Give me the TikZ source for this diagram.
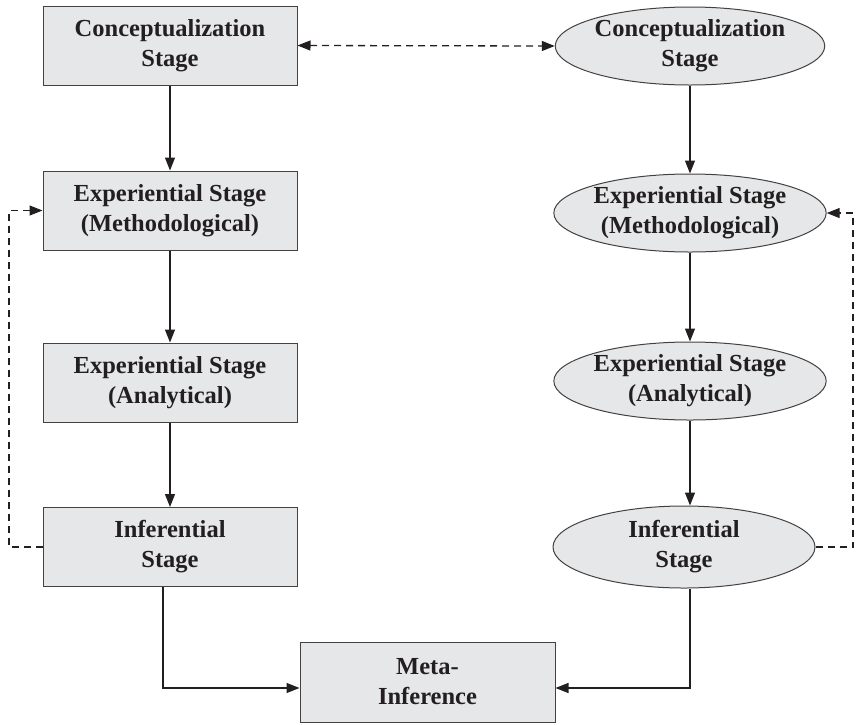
\documentclass[tikz,border=0pt]{standalone}
\usepackage{fontspec}
\setmainfont{Liberation Serif}
\usetikzlibrary{shapes.geometric,arrows.meta}
\definecolor{nodefill}{HTML}{E6E7E8}
\definecolor{edgecol}{HTML}{231F20}
\begin{document}
\begin{tikzpicture}[x=1pt,y=-1pt,
  txt/.style={align=center, text=edgecol, font=\bfseries\fontsize{24.5}{30}\selectfont},
  boxnode/.style={txt, draw=edgecol!85, fill=nodefill, line width=1pt, minimum width=254pt, minimum height=79pt, inner sep=0pt},
  ellnode/.style={txt, ellipse, draw=edgecol!85, fill=nodefill, line width=1pt, minimum width=268pt, minimum height=78pt, inner sep=0pt},
  conn/.style={draw=edgecol, line width=1.3pt, -{Triangle[length=13pt,width=10pt]}},
  dconn/.style={draw=edgecol, line width=1.3pt, dash pattern=on 7pt off 5pt},
  tipend/.style={-{Triangle[length=13pt,width=10pt]}},
  tipboth/.style={{Triangle[length=13pt,width=10pt]}-{Triangle[length=13pt,width=10pt]}}
]
\useasboundingbox (0,0) rectangle (856,724);
\node[boxnode] (L1) at (170,45.5) {Conceptualization\\Stage};
\node[boxnode] (L2) at (170,210.5) {Experiential Stage\\(Methodological)};
\node[boxnode] (L3) at (170,382.5) {Experiential Stage\\(Analytical)};
\node[boxnode] (L4) at (170,547) {Inferential\\Stage};
\node[ellnode] (R1) at (690,46) {Conceptualization\\Stage};
\node[ellnode] (R2) at (690,213) {Experiential Stage\\(Methodological)};
\node[ellnode] (R3) at (690,381) {Experiential Stage\\(Analytical)};
\node[ellnode, minimum width=262pt, minimum height=82pt] (R4) at (684,547) {Inferential\\Stage};
\node[boxnode, minimum width=255pt, minimum height=80pt] (M) at (427.5,682) {Meta-\\Inference};
\coordinate (lx) at (9,0);
\coordinate (rx) at (853,0);
\draw[conn] (L1) -- (L2);
\draw[conn] (L2) -- (L3);
\draw[conn] (L3) -- (L4);
\draw[conn] (R1) -- (R2);
\draw[conn] (R2) -- (R3);
\draw[conn] (R3.south) -- (R3.south |- R4.north);
\draw[conn] ([xshift=-7pt]L4.south) |- ([yshift=-6pt]M.west);
\draw[conn] (R3.south |- R4.south) |- ([yshift=-6pt]M.east);
\draw[dconn, tipboth] (L1.east) -- (R1.west);
\draw[dconn, tipend] (L4.west) -- (L4.west -| lx) |- (L2.west);
\draw[dconn, tipend] (R4.east) -- (R4.east -| rx) |- (R2.east);
\end{tikzpicture}
\end{document}
